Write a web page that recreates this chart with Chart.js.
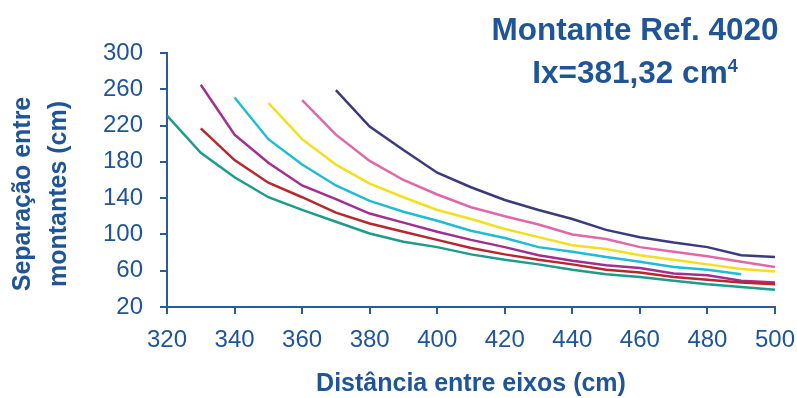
<!DOCTYPE html>
<html>
<head>
<meta charset="utf-8">
<script src="https://cdn.jsdelivr.net/npm/chart.js@4/dist/chart.umd.min.js"></script>
<style>
  html, body { margin: 0; padding: 0; background: #ffffff; }
  #wrap { position: relative; width: 797px; height: 398px; overflow: hidden; }
  #c { position: absolute; left: 0; top: 0; }
  #title {
    position: absolute; left: 435px; top: 7.7px; width: 400px; text-align: center;
    font-family: "Liberation Sans", Arial, sans-serif; font-weight: bold; font-size: 31.5px;
    line-height: 43px; color: #1f5597; white-space: nowrap;
  }
  #title sup { font-size: 18px; vertical-align: 0; position: relative; top: -11px; }
  #ytitle {
    position: absolute; left: -91px; top: 158px; width: 260px; height: 72px; text-align: center;
    font-family: "Liberation Sans", Arial, sans-serif; font-weight: bold; font-size: 25px;
    line-height: 36px; color: #1f5597; transform: rotate(-90deg); transform-origin: 50% 50%;
    white-space: nowrap;
  }
</style>
</head>
<body>
<div id="wrap">
  <canvas id="c" width="797" height="398"></canvas>
  <div id="title">Montante Ref. 4020<br>Ix=381,32 cm<sup>4</sup></div>
  <div id="ytitle">Separação entre<br>montantes (cm)</div>
</div>
<script>
// Distância entre eixos (cm)
const xValues = [320, 330, 340, 350, 360, 370, 380, 390, 400, 410, 420, 430, 440, 450, 460, 470, 480, 490, 500];

// Separação entre montantes (cm) per curve
const seriesTeal   = [231, 190, 163, 141, 127, 114, 101, 92, 86, 78, 72, 67, 61, 56, 53, 49, 45, 42, 39];
const seriesRed    = [null, 217, 182, 157, 141, 124, 112, 103, 94, 85, 78, 72, 67, 61, 58, 53, 50, 47, 45];
const seriesPurple = [null, 265, 210, 179, 154, 139, 123, 113, 103, 94, 86, 77, 71, 66, 63, 57, 55, 49, 47];
const seriesCyan   = [null, null, 251, 205, 177, 154, 137, 125, 115, 104, 96, 86, 81, 75, 70, 64, 61, 56, null];
const seriesYellow = [null, null, null, 245, 205, 177, 156, 141, 127, 117, 106, 97, 88, 84, 77, 72, 67, 62, 59];
const seriesPink   = [null, null, null, null, 248, 210, 181, 160, 144, 130, 120, 111, 100, 95, 86, 81, 76, 70, 64];
const seriesNavy   = [null, null, null, null, null, 259, 219, 193, 168, 152, 138, 127, 117, 105, 97, 91, 86, 77, 75];

const xTickMin = 320, xTickMax = 500, xTickStep = 20;
const yTickMin = 20, yTickMax = 300, yTickStep = 40;

const colors = ['#1d9b8b', '#b6272f', '#a22f90', '#22bbd5', '#f3df1d', '#de68a8', '#3b3a7e'];
const allSeries = [seriesTeal, seriesRed, seriesPurple, seriesCyan, seriesYellow, seriesPink, seriesNavy];

function toPoints(vals) {
  const pts = [];
  vals.forEach((v, i) => { if (v !== null) pts.push({ x: xValues[i], y: v }); });
  return pts;
}

const axisColor = '#2a5c9a';
const textColor = '#1f5597';

new Chart(document.getElementById('c'), {
  type: 'line',
  data: {
    datasets: allSeries.map((s, i) => ({
      data: toPoints(s),
      borderColor: colors[i],
      backgroundColor: colors[i],
      borderWidth: 2.5,
      pointRadius: 0,
      tension: 0,
      fill: false
    }))
  },
  options: {
    responsive: false,
    animation: false,
    devicePixelRatio: 1,
    layout: { padding: { top: 53, right: 22, bottom: 0, left: 0 } },
    plugins: { legend: { display: false }, tooltip: { enabled: false }, title: { display: false } },
    scales: {
      x: {
        type: 'linear',
        min: xTickMin, max: xTickMax,
        afterFit: (s) => { s.height = 91; s.paddingRight = 0; s.paddingLeft = 0; },
        ticks: {
          stepSize: xTickStep, padding: 12, color: textColor,
          font: { family: 'Liberation Sans', size: 24 },
          maxRotation: 0, autoSkip: false
        },
        grid: { display: true, drawOnChartArea: false, drawTicks: true, tickLength: 7, color: axisColor, lineWidth: 2 },
        border: { display: true, color: axisColor, width: 2 },
        title: {
          display: true, text: 'Distância entre eixos (cm)', color: textColor,
          font: { family: 'Liberation Sans', size: 25, weight: 'bold', lineHeight: 1.1 },
          padding: { top: 0, bottom: 0 }
        }
      },
      y: {
        type: 'linear',
        min: yTickMin, max: yTickMax,
        afterFit: (s) => { s.width = 167; s.paddingTop = 0; s.paddingBottom = 0; },
        ticks: {
          stepSize: yTickStep, padding: 17, color: textColor,
          font: { family: 'Liberation Sans', size: 24 }
        },
        grid: { display: true, drawOnChartArea: false, drawTicks: true, tickLength: 7, color: axisColor, lineWidth: 2 },
        border: { display: true, color: axisColor, width: 2 },
        title: { display: false }
      }
    }
  }
});
</script>
</body>
</html>
